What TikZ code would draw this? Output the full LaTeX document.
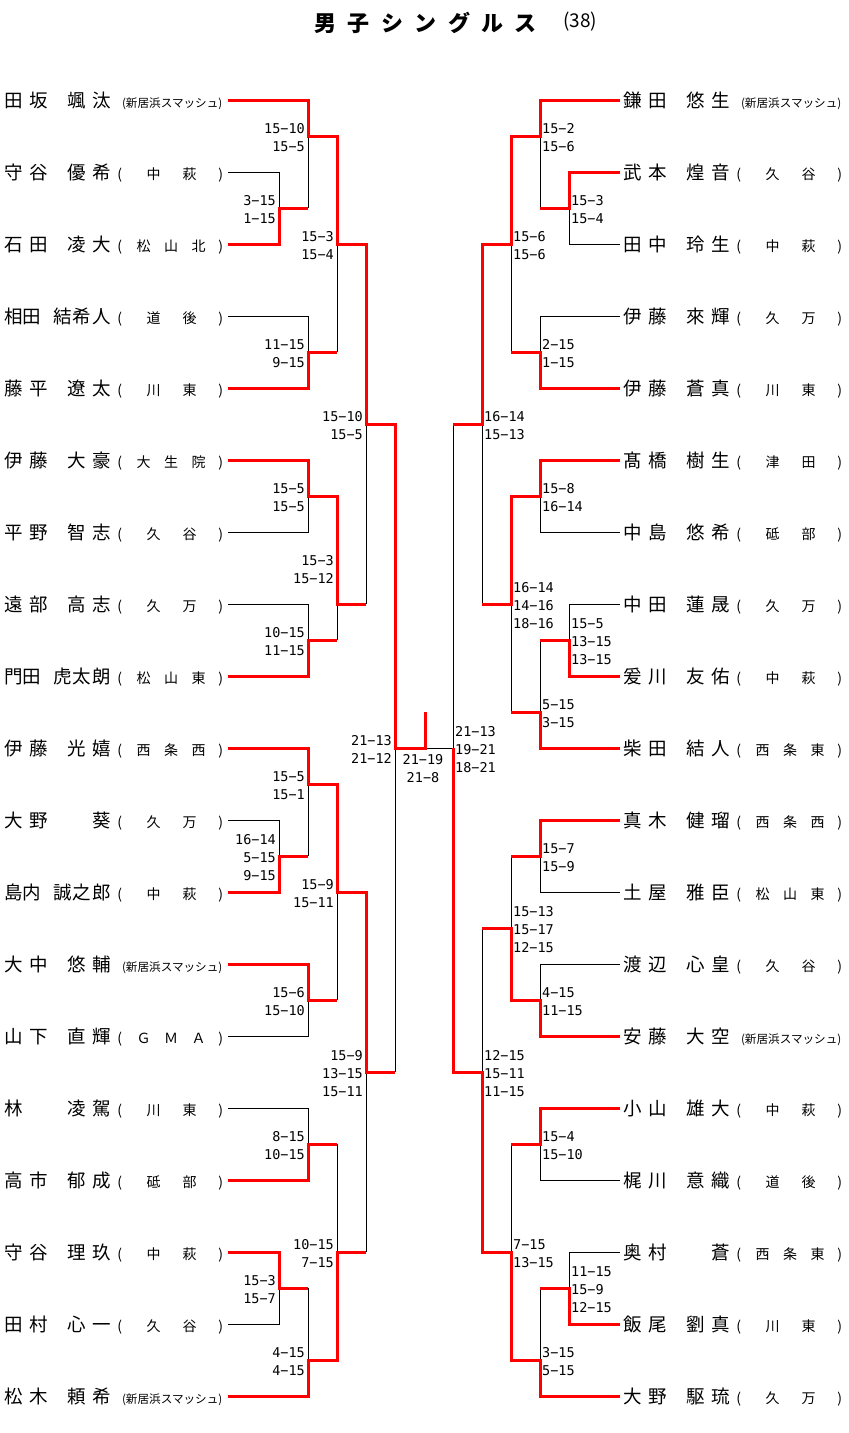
\documentclass[tikz,border=0pt]{standalone}
\usepackage{fontspec}
\newfontfamily\jp{Noto Sans CJK JP}
\newfontfamily\mono{DejaVu Sans Mono}
\definecolor{win}{RGB}{255,0,0}
\newcommand\ch[2]{\makebox[0pt][l]{\hspace*{#1pt}\makebox[0pt]{#2}}}
\newcommand\nA[4]{\ch{13.5}{#1}\ch{38.5}{#2}\ch{76.5}{#3}\ch{101.5}{#4}}
\newcommand\nB[5]{\ch{13.5}{#1}\ch{31.5}{#2}\ch{62.5}{#3}\ch{82}{#4}\ch{101.5}{#5}}
\newcommand\tB[2]{\ch{119.5}{(}\ch{153.5}{#1}\ch{189.5}{#2}\ch{220.5}{)}}
\newcommand\tC[3]{\ch{119.5}{(}\ch{143.5}{#1}\ch{171}{#2}\ch{198.5}{#3}\ch{220.5}{)}}
\newcommand\tS{\ch{172}{\raisebox{-0.3pt}{\fontsize{11.6}{13}\selectfont (新居浜スマッシュ)}}}
\newcommand\tmf{\fontsize{14}{16}\selectfont}
\newcommand\pl[5]{\node[plyr] (#1) at (#2,{107+72*#3}) {#4{\tmf\raisebox{-0.6pt}{#5}}\hspace*{225pt}};}
\newcommand\sL[3]{\foreach \t [count=\k from 0] in {#3}{\node[sc,anchor=base east] (sl#1-#2-\k) at (#1,{#2+5+18*\k}) {\t};}}
\newcommand\sR[3]{\foreach \t [count=\k from 0] in {#3}{\node[sc,anchor=base west] (sr#1-#2-\k) at (#1,{#2+5+18*\k}) {\t};}}
\newcommand\sC[3]{\foreach \t [count=\k from 0] in {#3}{\node[sc,anchor=base] (sc#1-#2-\k) at (#1,{#2+5+18*\k}) {\t};}}
\begin{document}
\begin{tikzpicture}[x=1pt,y=-1pt,
  plyr/.style={anchor=base west,inner sep=0pt,font={\jp\fontsize{18.5}{20}\selectfont}},
  sc/.style={inner sep=0pt,font={\mono\fontsize{13.5}{16}\selectfont}},
  bk/.style={draw=black,line width=0.9pt},
  rd/.style={draw=win,line width=3pt,line join=miter}]
\fill[white] (0,0) rectangle (849,1433);
\useasboundingbox (0,0) rectangle (849,1433);
% title
\node[anchor=base west,inner sep=0pt,font={\jp\bfseries\fontsize{22}{24}\selectfont}] (title) at (0,31.4)
  {\ch{325}{男}\ch{358}{子}\ch{392}{シ}\ch{425}{ン}\ch{459}{グ}\ch{492}{ル}\ch{525}{ス}\hspace*{540pt}};
\node[inner sep=0pt,font={\jp\fontsize{19}{21}\selectfont}] (cnt) at (580,22) {(38)};
% endpoints
\foreach \i in {0,...,18}{
  \coordinate (a\i) at (228,{100+72*\i});
  \coordinate (b\i) at (620,{100+72*\i});
}
% left players
\pl{L0}{0}{0}{\nA{田}{坂}{颯}{汰}}{\tS}
\pl{L1}{0}{1}{\nA{守}{谷}{優}{希}}{\tB{中}{萩}}
\pl{L2}{0}{2}{\nA{石}{田}{凌}{大}}{\tC{松}{山}{北}}
\pl{L3}{0}{3}{\nB{相}{田}{結}{希}{人}}{\tB{道}{後}}
\pl{L4}{0}{4}{\nA{藤}{平}{遼}{太}}{\tB{川}{東}}
\pl{L5}{0}{5}{\nA{伊}{藤}{大}{豪}}{\tC{大}{生}{院}}
\pl{L6}{0}{6}{\nA{平}{野}{智}{志}}{\tB{久}{谷}}
\pl{L7}{0}{7}{\nA{遠}{部}{高}{志}}{\tB{久}{万}}
\pl{L8}{0}{8}{\nB{門}{田}{虎}{太}{朗}}{\tC{松}{山}{東}}
\pl{L9}{0}{9}{\nA{伊}{藤}{光}{嬉}}{\tC{西}{条}{西}}
\pl{L10}{0}{10}{\ch{13.5}{大}\ch{38.5}{野}\ch{101.5}{葵}}{\tB{久}{万}}
\pl{L11}{0}{11}{\nB{島}{内}{誠}{之}{郎}}{\tB{中}{萩}}
\pl{L12}{0}{12}{\nA{大}{中}{悠}{輔}}{\tS}
\pl{L13}{0}{13}{\nA{山}{下}{直}{輝}}{\tC{Ｇ}{Ｍ}{Ａ}}
\pl{L14}{0}{14}{\ch{13.5}{林}\ch{76.5}{凌}\ch{101.5}{駕}}{\tB{川}{東}}
\pl{L15}{0}{15}{\nA{高}{市}{郁}{成}}{\tB{砥}{部}}
\pl{L16}{0}{16}{\nA{守}{谷}{理}{玖}}{\tB{中}{萩}}
\pl{L17}{0}{17}{\nA{田}{村}{心}{一}}{\tB{久}{谷}}
\pl{L18}{0}{18}{\nA{松}{木}{頼}{希}}{\tS}
% right players
\pl{R0}{619}{0}{\nA{鎌}{田}{悠}{生}}{\tS}
\pl{R1}{619}{1}{\nA{武}{本}{煌}{音}}{\tB{久}{谷}}
\pl{R2}{619}{2}{\nA{田}{中}{玲}{生}}{\tB{中}{萩}}
\pl{R3}{619}{3}{\nA{伊}{藤}{來}{輝}}{\tB{久}{万}}
\pl{R4}{619}{4}{\nA{伊}{藤}{蒼}{真}}{\tB{川}{東}}
\pl{R5}{619}{5}{\nA{髙}{橋}{樹}{生}}{\tB{津}{田}}
\pl{R6}{619}{6}{\nA{中}{島}{悠}{希}}{\tB{砥}{部}}
\pl{R7}{619}{7}{\nA{中}{田}{蓮}{晟}}{\tB{久}{万}}
\pl{R8}{619}{8}{\nA{爰}{川}{友}{佑}}{\tB{中}{萩}}
\pl{R9}{619}{9}{\nA{柴}{田}{結}{人}}{\tC{西}{条}{東}}
\pl{R10}{619}{10}{\nA{真}{木}{健}{瑠}}{\tC{西}{条}{西}}
\pl{R11}{619}{11}{\nA{土}{屋}{雅}{臣}}{\tC{松}{山}{東}}
\pl{R12}{619}{12}{\nA{渡}{辺}{心}{皇}}{\tB{久}{谷}}
\pl{R13}{619}{13}{\nA{安}{藤}{大}{空}}{\tS}
\pl{R14}{619}{14}{\nA{小}{山}{雄}{大}}{\tB{中}{萩}}
\pl{R15}{619}{15}{\nA{梶}{川}{意}{織}}{\tB{道}{後}}
\pl{R16}{619}{16}{\ch{13.5}{奥}\ch{38.5}{村}\ch{101.5}{蒼}}{\tC{西}{条}{東}}
\pl{R17}{619}{17}{\nA{飯}{尾}{劉}{真}}{\tB{川}{東}}
\pl{R18}{619}{18}{\nA{大}{野}{駆}{琉}}{\tB{久}{万}}
% black lines left
\draw[bk] (a1) -| (279,208);
\draw[bk] (308,136) -- (308,208);
\draw[bk] (a3) -| (308,352);
\draw[bk] (337,244) -- (337,352);
\draw[bk] (a6) -| (308,496);
\draw[bk] (a7) -| (308,640);
\draw[bk] (337,604) -- (337,640);
\draw[bk] (366,424) -- (366,604);
\draw[bk] (395,748) -- (395,1072);
\draw[bk] (308,784) -- (308,856);
\draw[bk] (a10) -| (279,856);
\draw[bk] (337,892) -- (337,1000);
\draw[bk] (a13) -| (308,1000);
\draw[bk] (366,1072) -- (366,1252);
\draw[bk] (a14) -| (308,1144);
\draw[bk] (337,1144) -- (337,1252);
\draw[bk] (a17) -| (279,1288);
\draw[bk] (308,1288) -- (308,1360);
\draw[bk] (425,748) -- (453,748);
% black lines right
\draw[bk] (b2) -| (569,208);
\draw[bk] (540,136) -- (540,208);
\draw[bk] (b3) -| (540,352);
\draw[bk] (511,244) -- (511,352);
\draw[bk] (b6) -| (540,496);
\draw[bk] (b7) -| (569,640);
\draw[bk] (540,640) -- (540,712);
\draw[bk] (511,604) -- (511,712);
\draw[bk] (482,424) -- (482,604);
\draw[bk] (453,424) -- (453,748);
\draw[bk] (b11) -| (540,856);
\draw[bk] (511,856) -- (511,928);
\draw[bk] (b12) -| (540,1000);
\draw[bk] (482,928) -- (482,1072);
\draw[bk] (b15) -| (540,1144);
\draw[bk] (511,1144) -- (511,1252);
\draw[bk] (b16) -| (569,1288);
\draw[bk] (540,1288) -- (540,1360);
% red lines left
\draw[rd] (a0) -| (308,136) -- (337,136) -- (337,244) -- (366,244) -- (366,424) -- (395,424) -- (395,748) -- (425,748) -- (425,712);
\draw[rd] (a2) -| (279,208) -- (308,208);
\draw[rd] (a4) -| (308,352) -- (337,352);
\draw[rd] (a5) -| (308,496) -- (337,496) -- (337,604) -- (366,604);
\draw[rd] (a8) -| (308,640) -- (337,640);
\draw[rd] (a9) -| (308,784) -- (337,784) -- (337,892) -- (366,892) -- (366,1072) -- (395,1072);
\draw[rd] (a11) -| (279,856) -- (308,856);
\draw[rd] (a12) -| (308,1000) -- (337,1000);
\draw[rd] (a15) -| (308,1144) -- (337,1144);
\draw[rd] (a16) -| (279,1288) -- (308,1288);
\draw[rd] (a18) -| (308,1360) -- (337,1360) -- (337,1252) -- (366,1252);
% red lines right
\draw[rd] (b0) -| (540,136) -- (511,136) -- (511,244) -- (482,244) -- (482,424) -- (453,424);
\draw[rd] (b1) -| (569,208) -- (540,208);
\draw[rd] (b4) -| (540,352) -- (511,352);
\draw[rd] (b5) -| (540,496) -- (511,496) -- (511,604) -- (482,604);
\draw[rd] (b8) -| (569,640) -- (540,640);
\draw[rd] (b9) -| (540,712) -- (511,712);
\draw[rd] (b10) -| (540,856) -- (511,856);
\draw[rd] (b13) -| (540,1000) -- (511,1000) -- (511,928) -- (482,928);
\draw[rd] (b14) -| (540,1144) -- (511,1144);
\draw[rd] (b17) -| (569,1288) -- (540,1288);
\draw[rd] (b18) -| (540,1360) -- (511,1360) -- (511,1252) -- (482,1252) -- (482,1072) -- (453,1072) -- (453,748);
% scores left
\sL{305}{128}{15−10,15−5}
\sL{276}{200}{3−15,1−15}
\sL{334}{236}{15−3,15−4}
\sL{305}{344}{11−15,9−15}
\sL{363}{416}{15−10,15−5}
\sL{305}{488}{15−5,15−5}
\sL{334}{560}{15−3,15−12}
\sL{305}{632}{10−15,11−15}
\sL{392}{740}{21−13,21−12}
\sL{305}{776}{15−5,15−1}
\sL{276}{839}{16−14,5−15,9−15}
\sL{334}{884}{15−9,15−11}
\sL{305}{992}{15−6,15−10}
\sL{363}{1055}{15−9,13−15,15−11}
\sL{305}{1136}{8−15,10−15}
\sL{334}{1244}{10−15,7−15}
\sL{276}{1280}{15−3,15−7}
\sL{305}{1352}{4−15,4−15}
\sC{423}{759}{21−19,21−8}
% scores right
\sR{542}{128}{15−2,15−6}
\sR{571}{200}{15−3,15−4}
\sR{513}{236}{15−6,15−6}
\sR{542}{344}{2−15,1−15}
\sR{484}{416}{16−14,15−13}
\sR{542}{488}{15−8,16−14}
\sR{513}{587}{16−14,14−16,18−16}
\sR{571}{623}{15−5,13−15,13−15}
\sR{542}{704}{5−15,3−15}
\sR{455}{731}{21−13,19−21,18−21}
\sR{542}{848}{15−7,15−9}
\sR{513}{911}{15−13,15−17,12−15}
\sR{542}{992}{4−15,11−15}
\sR{484}{1055}{12−15,15−11,11−15}
\sR{542}{1136}{15−4,15−10}
\sR{513}{1244}{7−15,13−15}
\sR{571}{1271}{11−15,15−9,12−15}
\sR{542}{1352}{3−15,5−15}
\end{tikzpicture}
\end{document}
